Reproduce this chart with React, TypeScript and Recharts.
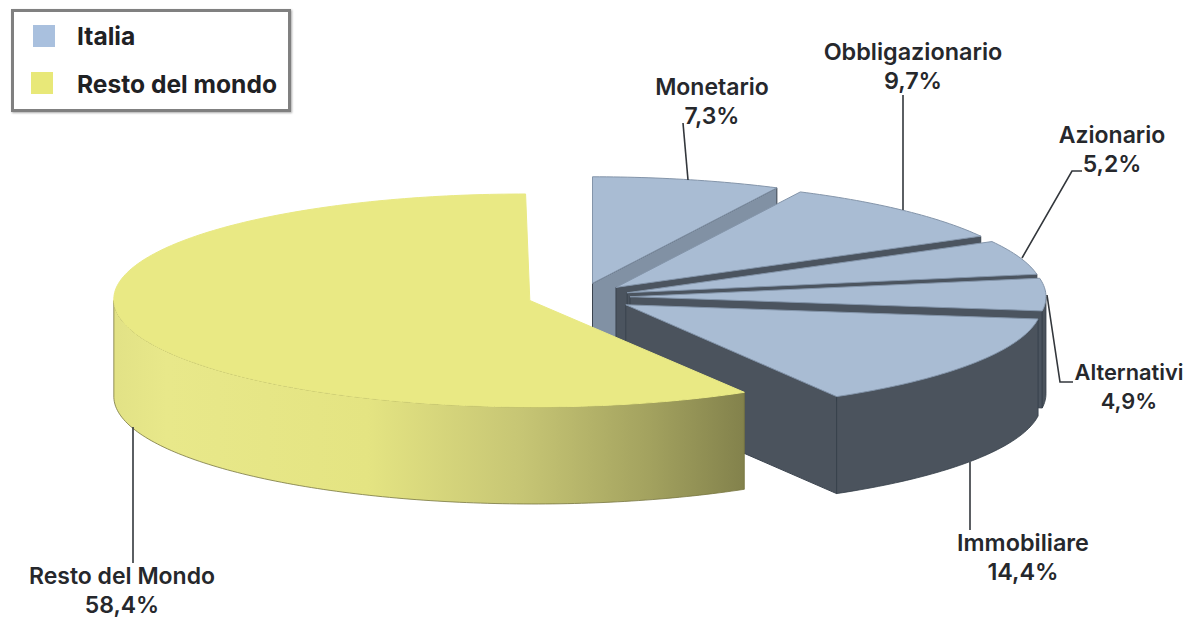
import { PieChart, Pie, Legend } from "recharts";

// allocation shares, clockwise from the top
const categories = ["Monetario", "Obbligazionario", "Azionario", "Alternativi", "Immobiliare", "Resto del Mondo"];
const shares = [7.3, 9.7, 5.2, 4.9, 14.4, 58.4];
const legendLabels = ["Italia", "Resto del mondo"];

const data = categories.map((name, i) => ({ name, value: shares[i] }));

// how far each slice is pulled out of the pie
const explode = [55, 52, 50, 50, 55, 52];
// the big slice leans a little in the original (perspective)
const shear = [0, 0, 0, 0, 0, 0.04];

// fake 3D settings
const TILT = 0.256;
const DEPTH = 97;
const RADIAN = Math.PI / 180;

const BLUE = "#a9bcd3";
const YELLOW = "#e9e984";
const topFill = [BLUE, BLUE, BLUE, BLUE, BLUE, YELLOW];
const topStroke = ["#8495aa", "#8495aa", "#8495aa", "#8495aa", "#8495aa", YELLOW];
const cutFill = ["#8191a4", "#4b545f", "#4b545f", "#4b545f", "#4b535d", "#4b535d"];
const wallFill = ["#4b535d", "#4b535d", "#4b535d", "#4b535d", "#4b535d", "url(#yellowWall)"];
const legendColors = ["#a9c0de", "#e8e878"];

// label placement: centre x, baseline of first line, font size
const labelPos = [
  [712, 95, 23],
  [913, 60, 23.4],
  [1112, 143, 23],
  [1129, 380, 21.8],
  [1023, 551, 23.4],
  [122, 584, 23],
];
// leader lines
const leaders = [
  "M683 123 L688 180",
  "M903 95 L903 210",
  "M1082 171 L1072 171 L1022 258",
  "M1073 382 L1060 382 L1047 295",
  "M970 462 L970 530",
  "M133 427 L133 563",
];

const fmt = (v: number) => v.toFixed(1).replace(".", ",") + "%";

const Slice3D = (props: any) => {
  const { cx, cy, outerRadius: R, startAngle, endAngle, name } = props;
  const i = categories.indexOf(name);
  const mid = ((startAngle + endAngle) / 2) * RADIAN;
  const x = cx + explode[i] * Math.cos(mid);
  const y = cy - explode[i] * TILT * Math.sin(mid);
  const ry = R * TILT;
  const pt = (deg: number, dy = 0) => {
    const oy = -ry * Math.sin(deg * RADIAN);
    return `${x + R * Math.cos(deg * RADIAN) + shear[i] * oy} ${y + oy + dy}`;
  };
  // rim of the ellipse as short segments, from angle a to angle b
  const rim = (a: number, b: number, dy = 0) => {
    const n = Math.max(2, Math.ceil(Math.abs(a - b)));
    const pts = [];
    for (let k = 0; k <= n; k++) pts.push(pt(a + ((b - a) * k) / n, dy));
    return pts.join(" L");
  };

  const top = `M${x} ${y} L${rim(startAngle, endAngle)} Z`;

  // cut face after the slice, only if it looks toward the viewer
  let cut = null;
  if (Math.cos(endAngle * RADIAN) > 0.001) {
    cut = `M${x} ${y} L${pt(endAngle)} L${pt(endAngle, DEPTH)} L${x} ${y + DEPTH} Z`;
  }

  // outer wall, only the lower half of the ellipse is visible
  const a1 = Math.min(startAngle, 0);
  const a2 = Math.max(endAngle, -180);
  let wall = null;
  if (a1 > a2) {
    wall = `M${rim(a1, a2)} L${rim(a2, a1, DEPTH)} Z`;
  }

  return (
    <g>
      {cut && <path d={cut} fill={cutFill[i]} stroke="#3a434e" strokeWidth={1} />}
      {wall && <path d={wall} fill={wallFill[i]} stroke={i === 5 ? "#77763f" : "#333d48"} strokeWidth={0.8} />}
      <path d={top} fill={topFill[i]} stroke={topStroke[i]} strokeWidth={1} />
    </g>
  );
};

const SliceLabel = (props: any) => {
  const { index, name, value } = props;
  const [lx, ly, size] = labelPos[index];
  return (
    <g>
      <path d={leaders[index]} fill="none" stroke="#33373c" strokeWidth={1.6} />
      <text x={lx} y={ly} textAnchor="middle" fontFamily="Inter" fontWeight={600} fontSize={size} fill="#26282c">
        <tspan x={lx}>{name}</tspan>
        <tspan x={lx} dy={28.5}>{fmt(value)}</tspan>
      </text>
    </g>
  );
};

const LegendBox = () => (
  <div
    style={{
      boxSizing: "border-box",
      width: 280,
      height: 103,
      border: "3px solid #808080",
      boxShadow: "1px 1px 2px #aaa",
      background: "#fff",
      position: "relative",
      fontFamily: "Inter",
      fontWeight: 700,
      fontSize: 24.6,
      color: "#1f2124",
    }}
  >
    {legendLabels.map((label, i) => (
      <div key={label}>
        <div style={{ position: "absolute", left: i === 0 ? 19 : 17, top: 13 + i * 47, width: 22, height: 22, background: legendColors[i] }} />
        <div style={{ position: "absolute", left: 63, top: 9 + i * 48, lineHeight: "30px", whiteSpace: "nowrap" }}>{label}</div>
      </div>
    ))}
  </div>
);

export default function App() {
  return (
    <div style={{ position: "absolute", left: 0, top: 0, width: 1186, height: 617, background: "#fff" }}>
      <PieChart width={1186} height={617} margin={{ top: 0, right: 0, bottom: 0, left: 0 }}>
        <defs>
          <linearGradient id="yellowWall" gradientUnits="userSpaceOnUse" x1="117" y1="0" x2="743" y2="0">
            <stop offset="0%" stopColor="#e2e286" />
            <stop offset="8%" stopColor="#e8e88a" />
            <stop offset="40%" stopColor="#e4e482" />
            <stop offset="65%" stopColor="#c6c574" />
            <stop offset="85%" stopColor="#a3a25f" />
            <stop offset="100%" stopColor="#83824c" />
          </linearGradient>
        </defs>
        <Legend
          layout="vertical"
          align="center"
          verticalAlign="middle"
          wrapperStyle={{ left: 11, top: 9, width: 280 }}
          content={() => <LegendBox />}
        />
        <Pie
          data={data}
          dataKey="value"
          nameKey="name"
          cx={580}
          cy={297}
          outerRadius={416}
          startAngle={90}
          endAngle={-270}
          stroke="none"
          isAnimationActive={false}
          shape={Slice3D}
          label={SliceLabel}
          labelLine={false}
        />
      </PieChart>
    </div>
  );
}
